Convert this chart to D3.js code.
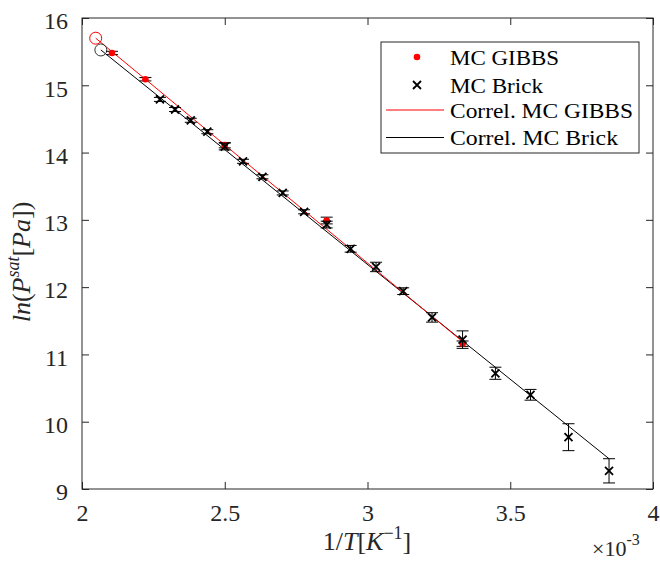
<!DOCTYPE html>
<html><head><meta charset="utf-8">
<script src="https://cdn.jsdelivr.net/npm/d3@7"></script>
<style>body{margin:0;background:#fff} svg{display:block}</style>
</head><body><svg id="c" width="660" height="562"></svg>
<script>
// ---- data ----
const xTicks = [2, 2.5, 3, 3.5, 4];
const xTickLabels = ["2", "2.5", "3", "3.5", "4"];
const yTicks = [9, 10, 11, 12, 13, 14, 15, 16];
const yTickLabels = ["9", "10", "11", "12", "13", "14", "15", "16"];

const gibbsX = [2.105, 2.222, 2.500, 2.857, 3.333];
const gibbsY = [15.48, 15.09, 14.11, 12.99, 11.16];
const gibbsErr = [0.025, 0.025, 0.04, 0.05, 0.04];

const brickX = [2.273, 2.326, 2.381, 2.439, 2.500, 2.564, 2.632, 2.703, 2.778, 2.857, 2.941, 3.030, 3.125, 3.226, 3.333, 3.448, 3.571, 3.704, 3.846];
const brickY = [14.79, 14.64, 14.48, 14.31, 14.09, 13.87, 13.64, 13.40, 13.12, 12.93, 12.57, 12.30, 11.94, 11.55, 11.22, 10.72, 10.40, 9.77, 9.27];
const brickErr = [0.03, 0.03, 0.03, 0.03, 0.05, 0.03, 0.03, 0.03, 0.03, 0.05, 0.05, 0.07, 0.05, 0.07, 0.13, 0.09, 0.08, 0.20, 0.18];

const corrGibbsX = [2.048, 3.333];
const corrGibbsY = [15.70, 11.19];
const corrBrickX = [2.066, 3.846];
const corrBrickY = [15.525, 9.45];

const critGibbs = [2.048, 15.70];
const critBrick = [2.066, 15.525];

const legendLabels = ["MC GIBBS", "MC Brick", "Correl. MC GIBBS", "Correl. MC Brick"];

// ---- layout ----
const L = 82, R = 653, T = 18, B = 489;
const svg = d3.select("#c");
const x = d3.scaleLinear().domain([2, 4]).range([L, R]);
const y = d3.scaleLinear().domain([9, 16]).range([B, T]);
const FONT = "'Liberation Serif', 'DejaVu Serif', serif";

// axes
const gx = svg.append("g").attr("transform", `translate(0,${B})`)
  .call(d3.axisBottom(x).tickValues(xTicks).tickFormat((d, i) => xTickLabels[i]).tickSize(-7).tickSizeOuter(0).tickPadding(16));
const gxt = svg.append("g").attr("transform", `translate(0,${T})`)
  .call(d3.axisTop(x).tickValues(xTicks).tickFormat("").tickSize(-7).tickSizeOuter(0));
const gy = svg.append("g").attr("transform", `translate(${L},0)`)
  .call(d3.axisLeft(y).tickValues(yTicks).tickFormat((d, i) => yTickLabels[i]).tickSize(-7).tickSizeOuter(0).tickPadding(14));
const gyr = svg.append("g").attr("transform", `translate(${R},0)`)
  .call(d3.axisRight(y).tickValues(yTicks).tickFormat("").tickSize(-7).tickSizeOuter(0));
[gx, gxt, gy, gyr].forEach(g => {
  g.attr("font-family", FONT);
  g.select(".domain").remove();
  g.selectAll("line").attr("stroke", "#262626").attr("stroke-width", 1);
  g.selectAll("text").attr("font-family", FONT).attr("font-size", 24).attr("fill", "#262626");
});
gy.selectAll("text").attr("dy", "0.45em");
gx.selectAll("text").attr("dy", "0.68em");

svg.append("rect").attr("x", L).attr("y", T).attr("width", R - L).attr("height", B - T)
  .attr("fill", "none").attr("stroke", "#262626").attr("stroke-width", 1);

// axis labels
const xl = svg.append("text").attr("x", 367).attr("y", 550).attr("text-anchor", "middle")
  .attr("font-family", FONT).attr("font-size", 26).attr("fill", "#262626");
xl.append("tspan").text("1/");
xl.append("tspan").attr("font-style", "italic").text("T");
xl.append("tspan").text("[");
xl.append("tspan").attr("font-style", "italic").text("K");
xl.append("tspan").attr("font-size", 18).attr("dy", -11).text("\u22121");
xl.append("tspan").attr("dy", 11).text("]");

const ex = svg.append("text").attr("x", 592).attr("y", 556)
  .attr("font-family", FONT).attr("font-size", 22).attr("fill", "#262626");
ex.append("tspan").text("\u00d710");
ex.append("tspan").attr("font-size", 16).attr("dy", -11).text("-3");

const yl = svg.append("text").attr("transform", "translate(30,262) rotate(-90)").attr("text-anchor", "middle")
  .attr("font-family", FONT).attr("font-size", 26).attr("fill", "#262626");
yl.append("tspan").attr("font-style", "italic").text("ln");
yl.append("tspan").text("(");
yl.append("tspan").attr("font-style", "italic").text("P");
yl.append("tspan").attr("font-style", "italic").attr("font-size", 18).attr("dy", -11).text("sat");
yl.append("tspan").attr("dy", 11).text("[");
yl.append("tspan").attr("font-style", "italic").text("Pa");
yl.append("tspan").text("])");

// correlation lines
const line = d3.line().x(d => x(d[0])).y(d => y(d[1]));
svg.append("path").datum(d3.zip(corrBrickX, corrBrickY)).attr("d", line)
  .attr("fill", "none").attr("stroke", "#000").attr("stroke-width", 1);
svg.append("path").datum(d3.zip(corrGibbsX, corrGibbsY)).attr("d", line)
  .attr("fill", "none").attr("stroke", "#ff0000").attr("stroke-width", 1);

// critical points
svg.append("circle").attr("cx", x(critGibbs[0])).attr("cy", y(critGibbs[1])).attr("r", 6)
  .attr("fill", "none").attr("stroke", "#ff0000").attr("stroke-width", 1);
svg.append("circle").attr("cx", x(critBrick[0])).attr("cy", y(critBrick[1])).attr("r", 6)
  .attr("fill", "none").attr("stroke", "#333").attr("stroke-width", 1);

// error bars
function errorBars(xs, ys, es, color) {
  const g = svg.append("g").attr("stroke", color).attr("stroke-width", 1).attr("fill", "none");
  xs.forEach((xv, i) => {
    const cx = x(xv), y1 = y(ys[i] + es[i]), y2 = y(ys[i] - es[i]);
    g.append("line").attr("x1", cx).attr("x2", cx).attr("y1", y1).attr("y2", y2);
    g.append("line").attr("x1", cx - 6).attr("x2", cx + 6).attr("y1", y1).attr("y2", y1);
    g.append("line").attr("x1", cx - 6).attr("x2", cx + 6).attr("y1", y2).attr("y2", y2);
  });
}
errorBars(gibbsX, gibbsY, gibbsErr, "#000");
svg.append("g").selectAll("circle").data(d3.zip(gibbsX, gibbsY)).join("circle")
  .attr("cx", d => x(d[0])).attr("cy", d => y(d[1])).attr("r", 3.3).attr("fill", "#ff0000");
errorBars(brickX, brickY, brickErr, "#000");
const xMark = (g, cx, cy, s) => g.append("path")
  .attr("d", `M${cx - s},${cy - s}L${cx + s},${cy + s}M${cx - s},${cy + s}L${cx + s},${cy - s}`)
  .attr("stroke", "#000").attr("stroke-width", 1.8).attr("fill", "none");
const gm = svg.append("g");
brickX.forEach((xv, i) => xMark(gm, x(xv), y(brickY[i]), 4));

// legend
const lg = svg.append("g");
lg.append("rect").attr("x", 381).attr("y", 42).attr("width", 258).attr("height", 111)
  .attr("fill", "#fff").attr("stroke", "#262626").attr("stroke-width", 1);
const rows = [57, 85, 110, 137.5];
const widths = [109, 93, 183, 168];
lg.append("circle").attr("cx", 417).attr("cy", rows[0]).attr("r", 3.3).attr("fill", "#ff0000");
xMark(lg, 417, rows[1], 4);
lg.append("line").attr("x1", 386).attr("x2", 444).attr("y1", rows[2]).attr("y2", rows[2]).attr("stroke", "#ff0000");
lg.append("line").attr("x1", 386).attr("x2", 444).attr("y1", rows[3]).attr("y2", rows[3]).attr("stroke", "#000");
legendLabels.forEach((t, i) => {
  lg.append("text").attr("x", 450).attr("y", rows[i] + 7.5).attr("font-family", FONT).attr("font-size", 21)
    .attr("textLength", widths[i]).attr("lengthAdjust", "spacingAndGlyphs").attr("fill", "#000").text(t);
});
</script></body></html>
